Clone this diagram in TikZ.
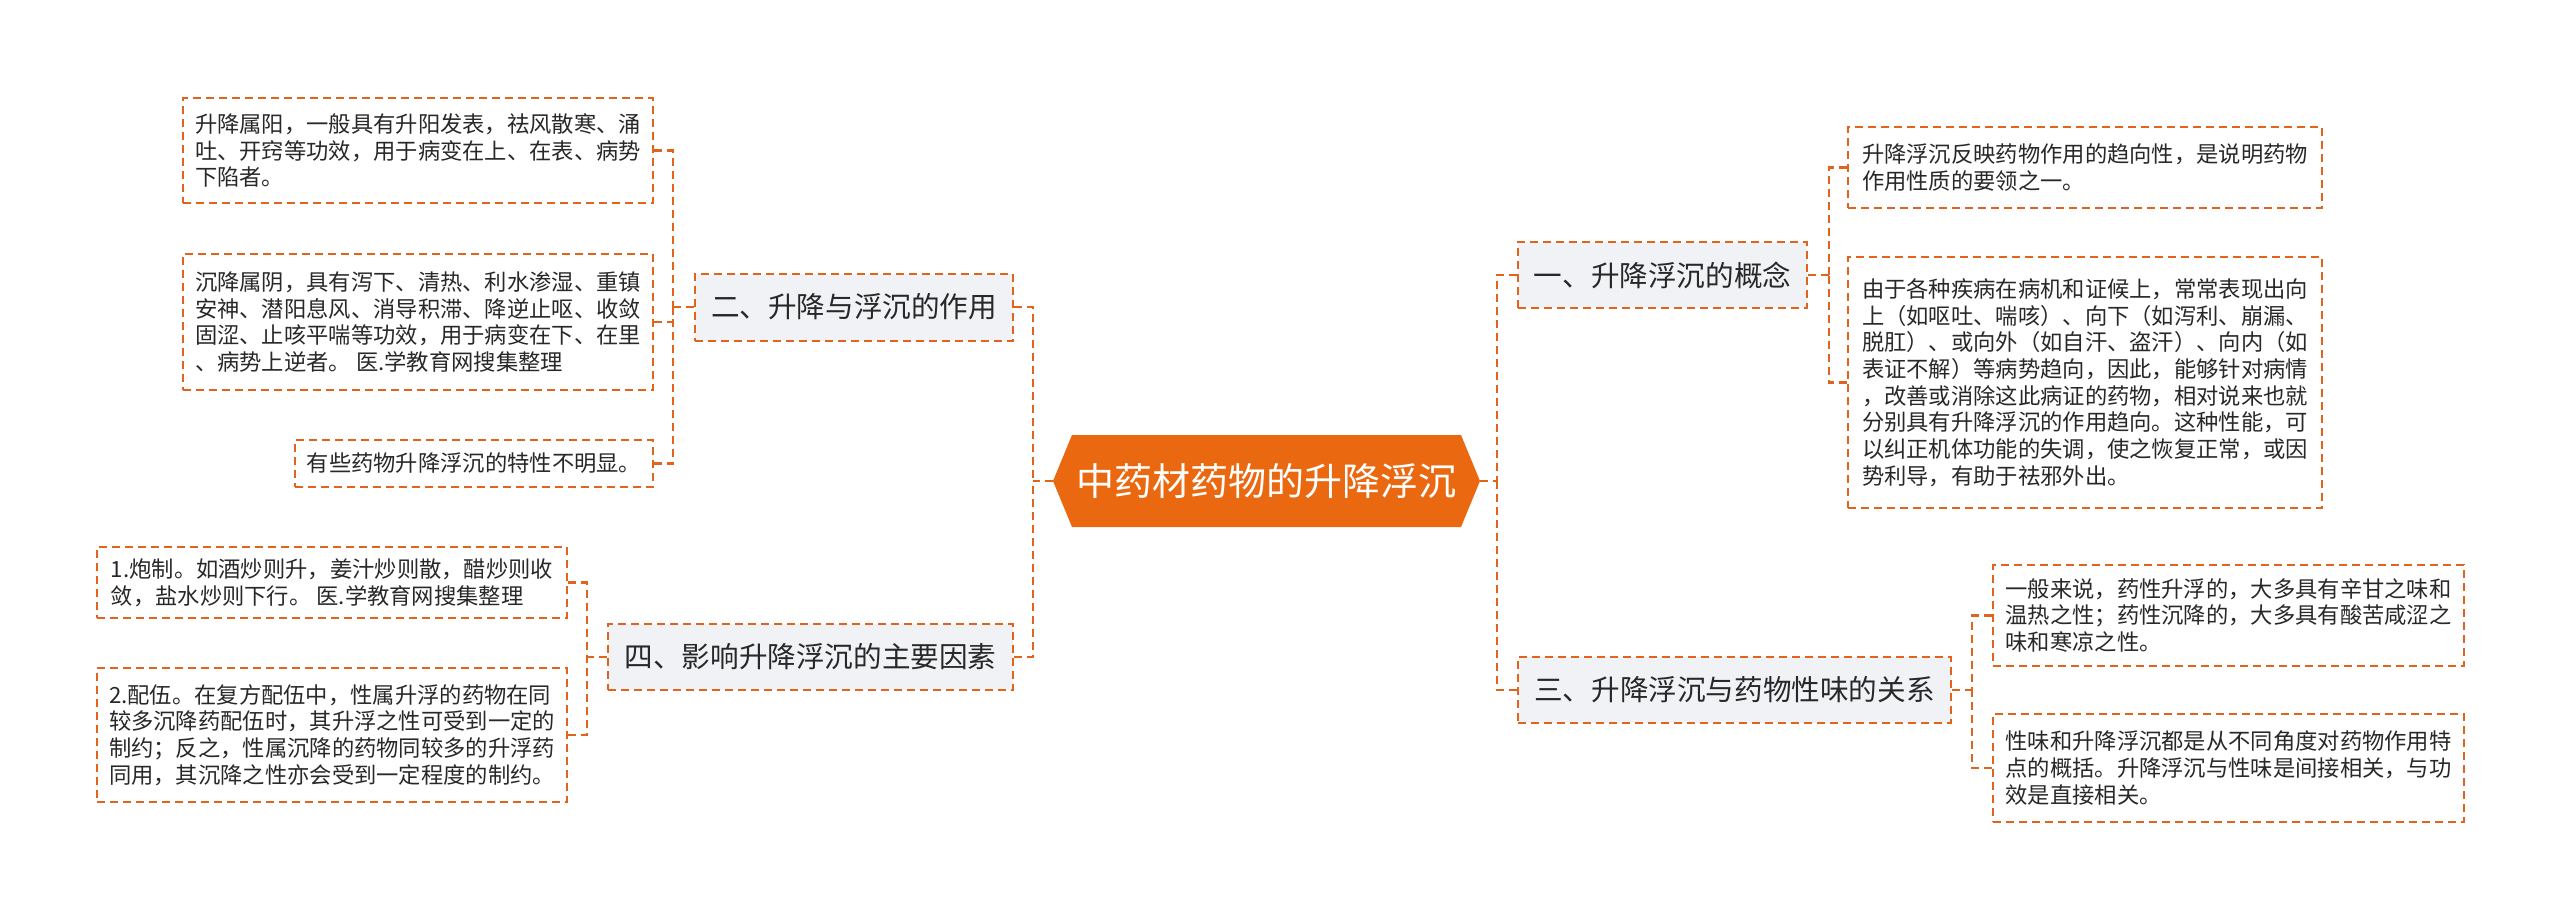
\documentclass[tikz,border=0pt]{standalone}
\usepackage{fontspec}
\setmainfont{Noto Sans CJK SC}
\definecolor{ora}{RGB}{224,100,28}
\definecolor{rootfill}{RGB}{234,104,16}
\definecolor{lvfill}{RGB}{240,242,245}
\definecolor{txt}{RGB}{40,40,40}
\newcommand{\leaffont}{\fontsize{22.3pt}{26.7pt}\selectfont}
\newcommand{\lvfont}{\fontsize{28.6pt}{34pt}\selectfont}
\newcommand{\rootfont}{\fontsize{38pt}{44pt}\selectfont}
\tikzset{
  boxline/.style={draw=ora, line width=2pt, dash pattern=on 8pt off 5pt},
  leaf/.style={boxline, fill=white, text=txt, inner sep=0pt, align=left, font=\leaffont},
  lvbox/.style={boxline, fill=lvfill, text=txt, inner sep=0pt, font=\lvfont},
  conn/.style={draw=ora, line width=2.5pt, dash pattern=on 8pt off 5pt},
}
\begin{document}
\begin{tikzpicture}[x=1pt,y=-1pt]
\useasboundingbox (0,0) rectangle (2560,919);
% root
\fill[rootfill] (1053,481) -- (1072,435) -- (1461,435) -- (1480,481) -- (1461,527) -- (1072,527) -- cycle;
\node (root) at (1266.5,481) [minimum width=427pt, minimum height=92pt, inner sep=0pt, text=white, font=\rootfont] {中药材药物的升降浮沉};
% level 1
\node[lvbox, minimum width=318pt, minimum height=67pt] (n2) at (854,307) {二、升降与浮沉的作用};
\node[lvbox, minimum width=405pt, minimum height=66pt] (n4) at (810.5,657) {四、影响升降浮沉的主要因素};
\node[lvbox, minimum width=289pt, minimum height=66pt] (n1) at (1662.5,275) {一、升降浮沉的概念};
\node[lvbox, minimum width=433pt, minimum height=66pt] (n3) at (1734.5,690) {三、升降浮沉与药物性味的关系};
% leaves
\node[leaf, minimum width=470pt, minimum height=105pt] (a) at (418,150.5) {升降属阳，一般具有升阳发表，祛风散寒、涌\\吐、开窍等功效，用于病变在上、在表、病势\\下陷者。};
\node[leaf, minimum width=470pt, minimum height=136pt] (b) at (418,322) {沉降属阴，具有泻下、清热、利水渗湿、重镇\\安神、潜阳息风、消导积滞、降逆止呕、收敛\\固涩、止咳平喘等功效，用于病变在下、在里\\、病势上逆者。 医.学教育网搜集整理};
\node[leaf, minimum width=358pt, minimum height=47pt] (c) at (474,463.5) {有些药物升降浮沉的特性不明显。};
\node[leaf, minimum width=470pt, minimum height=71pt] (d) at (332,582.5) {1.炮制。如酒炒则升，姜汁炒则散，醋炒则收\\敛，盐水炒则下行。 医.学教育网搜集整理};
\node[leaf, minimum width=470pt, minimum height=134pt] (e) at (332,735) {2.配伍。在复方配伍中，性属升浮的药物在同\\较多沉降药配伍时，其升浮之性可受到一定的\\制约；反之，性属沉降的药物同较多的升浮药\\同用，其沉降之性亦会受到一定程度的制约。};
\node[leaf, minimum width=474pt, minimum height=81pt] (f) at (2085,167.5) {升降浮沉反映药物作用的趋向性，是说明药物\\作用性质的要领之一。};
\node[leaf, minimum width=474pt, minimum height=251pt] (g) at (2085,382.5) {由于各种疾病在病机和证候上，常常表现出向\\上（如呕吐、喘咳）、向下（如泻利、崩漏、\\脱肛）、或向外（如自汗、盗汗）、向内（如\\表证不解）等病势趋向，因此，能够针对病情\\，改善或消除这此病证的药物，相对说来也就\\分别具有升降浮沉的作用趋向。这种性能，可\\以纠正机体功能的失调，使之恢复正常，或因\\势利导，有助于祛邪外出。};
\node[leaf, minimum width=471pt, minimum height=101pt] (h) at (2228.5,615.5) {一般来说，药性升浮的，大多具有辛甘之味和\\温热之性；药性沉降的，大多具有酸苦咸涩之\\味和寒凉之性。};
\node[leaf, minimum width=471pt, minimum height=108pt] (i) at (2228.5,768) {性味和升降浮沉都是从不同角度对药物作用特\\点的概括。升降浮沉与性味是间接相关，与功\\效是直接相关。};
% junctions
\coordinate (lj) at (1033,481);
\coordinate (rj) at (1497,481);
\coordinate (j2) at (673,307);
\coordinate (j4) at (587,657);
\coordinate (j1) at (1829,275);
\coordinate (j3) at (1972,690);
% connectors
\draw[conn] (root.west) -- (lj);
\draw[conn] (n2.east) -| (lj);
\draw[conn] (n4.east) -| (lj);
\draw[conn] (root.east) -- (rj);
\draw[conn] (n1.west) -| (rj);
\draw[conn] (n3.west) -| (rj);
\draw[conn] (n2.west) -- (j2);
\draw[conn] (a.east) -| (j2);
\draw[conn] (b.east) -| (j2);
\draw[conn] (c.east) -| (j2);
\draw[conn] (n4.west) -- (j4);
\draw[conn] (d.east) -| (j4);
\draw[conn] (e.east) -| (j4);
\draw[conn] (n1.east) -- (j1);
\draw[conn] (f.west) -| (j1);
\draw[conn] (g.west) -| (j1);
\draw[conn] (n3.east) -- (j3);
\draw[conn] (h.west) -| (j3);
\draw[conn] (i.west) -| (j3);
\end{tikzpicture}
\end{document}
